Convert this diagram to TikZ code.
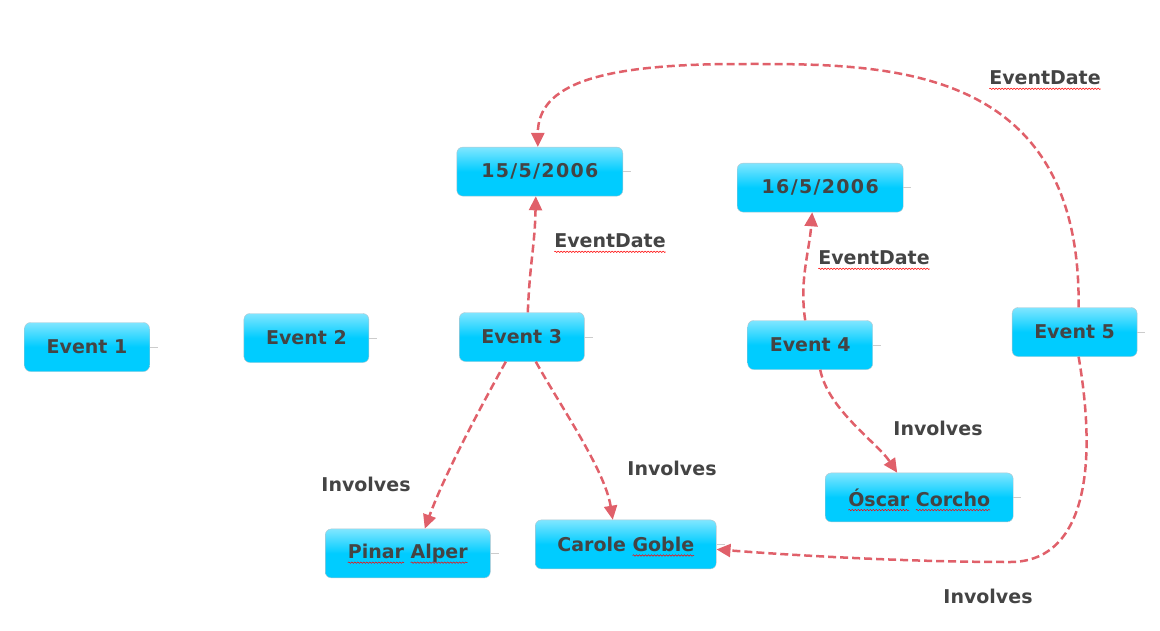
\documentclass[tikz,border=0pt]{standalone}
\usepackage{fontspec}
\setmainfont{DejaVu Sans}
\usetikzlibrary{positioning,arrows.meta,decorations.pathmorphing}
\definecolor{boxtop}{HTML}{80E6FF}
\definecolor{boxfill}{HTML}{00CCFF}
\definecolor{boxline}{HTML}{B4C6CE}
\definecolor{txt}{HTML}{444444}
\definecolor{relred}{HTML}{E0606A}
\newcommand{\wavy}[1]{\tikz[baseline=(w.base), sharp corners]{%
  \node[shape=rectangle, inner sep=0pt, outer sep=0pt, minimum width=0pt, minimum height=0pt] (w) {#1};
  \draw[overlay, red, line width=0.5pt, solid, decorate, decoration={snake, amplitude=0.7pt, segment length=3pt}]
    ([yshift=-4pt]w.base west) -- ([yshift=-4pt]w.base east);}}

\begin{document}
\begin{tikzpicture}[x=1pt, y=-1pt,
                    evbox/.style={rectangle, rounded corners=6pt, draw=boxline, thin,
                                  top color=boxtop, bottom color=boxfill, middle color=boxfill,
                                  minimum width=125pt, minimum height=49pt, text=txt,
                                  font=\bfseries\fontsize{19}{21}\selectfont},
                    datebox/.style={evbox, minimum width=166pt,
                                  font=\bfseries\fontsize{19}{21}\selectfont\addfontfeatures{LetterSpace=7}},
                    lbl/.style={text=txt, font=\bfseries\fontsize{19}{21}\selectfont},
                    rel/.style={relred, line width=2.5pt, dash pattern=on 8pt off 4pt,
                                -{Triangle[length=14pt, width=13pt]}},
                    stub/.style={gray!40, thin}]
    \useasboundingbox (0,0) rectangle (1160,630);
    % nodes
    \node[evbox]      (e1)      at (87,347)                              {Event 1};
    \node[evbox]      (e2)      [right=94pt of e1, yshift=9pt]           {Event 2};
    \node[evbox]      (e3)      [right=90pt of e2, yshift=1pt]           {Event 3};
    \node[evbox]      (e4)      [right=163pt of e3, yshift=-8pt]         {Event 4};
    \node[evbox]      (e5)      [right=139pt of e4, yshift=13pt]         {Event 5};
    \node[datebox]    (d1)      [above=116pt of e3, xshift=18pt]         {15/5/2006};
    \node[datebox]    (d2)      [above=108pt of e4, xshift=10pt]         {16/5/2006};
    \node[evbox, minimum width=165pt] (pa) [below=167pt of e3, xshift=-114pt] {\wavy{Pinar} \wavy{Alper}};
    \node[evbox, minimum width=181pt] (cg) [below=158pt of e3, xshift=104pt]  {Carole \wavy{Goble}};
    \node[evbox, minimum width=188pt] (oc) [below=103pt of e4, xshift=109pt]  {\wavy{Óscar} \wavy{Corcho}};
    \foreach \n in {e1,e2,e3,e4,e5,d1,d2,pa,cg,oc}
        \draw[stub] (\n.east) -- ++(8,0);
    % labels
    \node[lbl] (l1) at (610,241)  {\wavy{EventDate}};
    \node[lbl] (l2) at (874,258)  {\wavy{EventDate}};
    \node[lbl] (l3) at (1045,78)  {\wavy{EventDate}};
    \node[lbl] (l4) at (366,484)  {Involves};
    \node[lbl] (l5) at (672,468)  {Involves};
    \node[lbl] (l6) at (938,428)  {Involves};
    \node[lbl] (l7) at (988,596)  {Involves};
    % lines
    \draw[rel] ([xshift=6pt]e3.north) .. controls +(2,-50) and +(-1,50) .. ([xshift=-4pt]d1.south);
    \draw[rel] ([xshift=-5pt]e4.north) .. controls +(-6,-40) and +(-3,40) .. ([xshift=-8pt]d2.south);
    \draw[rel] ([xshift=4pt]e5.north) .. controls +(3,-248) and +(140,0) .. (740,64)
               .. controls +(-140,0) and +(0,-63) .. ([xshift=-2pt]d1.north);
    \draw[rel] ([xshift=-16pt]e3.south) .. controls +(-25,45) and +(20,-55) .. ([xshift=17pt]pa.north);
    \draw[rel] ([xshift=14pt]e3.south) .. controls +(25,45) and +(-8,-50) .. ([xshift=-13pt]cg.north);
    \draw[rel] ([xshift=10pt]e4.south) .. controls +(8,40) and +(-20,-30) .. ([xshift=-22pt]oc.north);
    \draw[rel] ([xshift=4pt]e5.south) .. controls +(21,123) and +(70,0) .. (1010,562)
               .. controls +(-110,0) and +(64,5) .. ([yshift=-5pt]cg.east);
\end{tikzpicture}
\end{document}
